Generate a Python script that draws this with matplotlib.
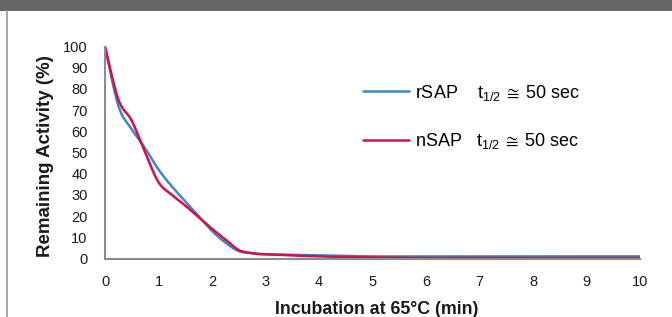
import numpy as np
import matplotlib
matplotlib.use("Agg")
import matplotlib.pyplot as plt
from matplotlib.lines import Line2D
from matplotlib.patches import Rectangle

plt.rcParams['font.family'] = ['Liberation Sans', 'DejaVu Sans']
plt.rcParams['mathtext.fontset'] = 'custom'
plt.rcParams['mathtext.rm'] = 'Liberation Sans'
plt.rcParams['mathtext.default'] = 'regular'
plt.rcParams['mathtext.fallback'] = 'stixsans'

# ---- data ----
time_min = [0, 0.25, 0.5, 0.75, 1, 1.25, 1.5, 1.75, 2, 2.25, 2.5, 2.75, 3, 4, 5, 6, 7, 8, 9, 10]
rsap = [100, 72, 61, 52, 42, 34, 27, 20, 13, 7.5, 3.5, 2.5, 2.0, 1.5, 1.0, 1.0, 1.0, 1.0, 1.0, 1.0]
nsap = [100, 75, 65, 50, 36, 30, 25, 19.5, 14, 9, 4, 2.5, 2.0, 1.0, 0.5, 0.3, 0.3, 0.3, 0.3, 0.3]
labels = [r"rSAP    t$_{1/2}\,\cong\,$50 sec", r"nSAP   t$_{1/2}\,\cong\,$50 sec"]
colors = ["#3f88c8", "#d2104a"]
xticks = list(range(0, 11))
yticks = list(range(0, 101, 10))


def smooth(x, y, n=20):
    """Excel-like smoothed line (Catmull-Rom / Bezier) through the data points."""
    x = np.asarray(x, float); y = np.asarray(y, float)
    px = np.concatenate([[x[0]], x, [x[-1]]])
    py = np.concatenate([[y[0]], y, [y[-1]]])
    xs, ys = [], []
    t = np.linspace(0, 1, n, endpoint=False)
    for i in range(1, len(px) - 2):
        p0 = np.array([px[i], py[i]]); p3 = np.array([px[i + 1], py[i + 1]])
        c1 = p0 + (np.array([px[i + 1], py[i + 1]]) - np.array([px[i - 1], py[i - 1]])) / 6
        c2 = p3 - (np.array([px[i + 2], py[i + 2]]) - np.array([px[i], py[i]])) / 6
        b = ((1 - t) ** 3)[:, None] * p0 + (3 * (1 - t) ** 2 * t)[:, None] * c1 \
            + (3 * (1 - t) * t ** 2)[:, None] * c2 + (t ** 3)[:, None] * p3
        xs.append(b[:, 0]); ys.append(b[:, 1])
    xs.append([x[-1]]); ys.append([y[-1]])
    return np.concatenate(xs), np.concatenate(ys)


fig = plt.figure(figsize=(6.72, 3.17), dpi=100)
ax = fig.add_axes([105 / 672, 1 - 258.5 / 317, 535 / 672, 212 / 317])

for series, c, lab in zip([rsap, nsap], colors, labels):
    sx, sy = smooth(time_min, series)
    ax.plot(sx, sy, color=c, lw=1.8, label=lab, solid_capstyle='butt', clip_on=False)

ax.set_xlim(0, 10)
ax.set_ylim(0, 100)
ax.set_xticks(xticks)
ax.set_yticks(yticks)
ax.tick_params(axis='both', length=0, labelsize=10.5, colors='#1a1a1a')
ax.tick_params(axis='x', pad=12)
ax.tick_params(axis='y', pad=12.5)
for s in ['top', 'right']:
    ax.spines[s].set_visible(False)
for s in ['left', 'bottom']:
    ax.spines[s].set_color('#8c8c8c')
    ax.spines[s].set_linewidth(1.5)

ax.set_xlabel("Incubation at 65°C (min)", fontsize=12.8, fontweight='bold', color='#1a1a1a')
ax.set_ylabel("Remaining Activity (%)", fontsize=13.5, fontweight='bold', color='#1a1a1a')
ax.xaxis.set_label_coords(0.508, -0.264)
ax.xaxis.label.set_va('baseline')
ax.yaxis.set_label_coords(-0.0953, 0.485)

ax.legend(loc='upper left', bbox_to_anchor=(0.480, 0.83), frameon=False,
          borderpad=0, borderaxespad=0,
          handlelength=2.66, handletextpad=0.28, labelspacing=1.6, fontsize=13)

# header bar and left frame line
fig.add_artist(Rectangle((0, 1 - 11 / 317), 1, 11 / 317, transform=fig.transFigure,
                         color='#666666', lw=0))
fig.add_artist(Line2D([7 / 672, 7 / 672], [0, 1 - 11 / 317], transform=fig.transFigure,
                      color='#999999', lw=1.2))

fig.savefig("out.png", dpi=100)
